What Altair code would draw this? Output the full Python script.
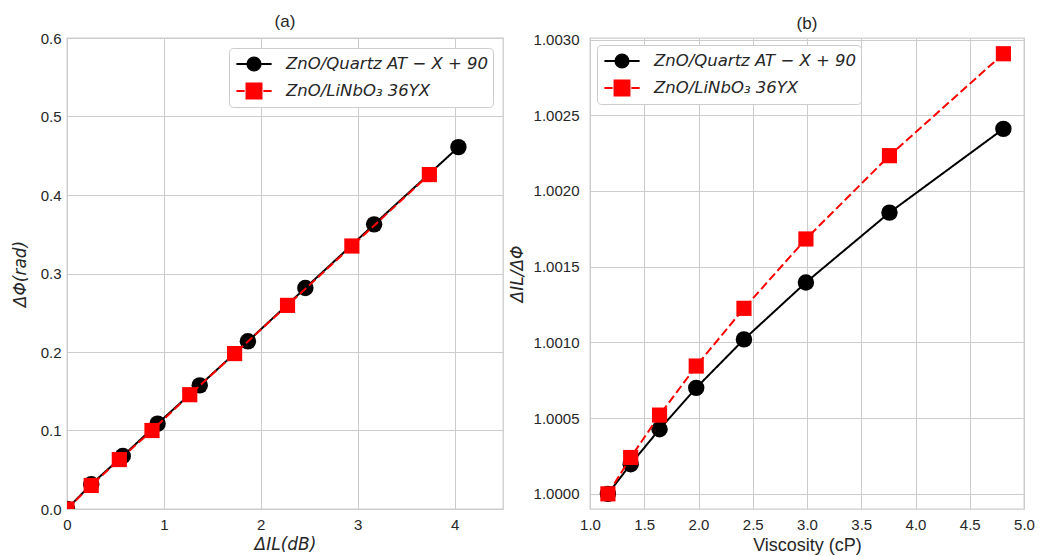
import altair as alt
import pandas as pd

series = ["ZnO/Quartz AT − X + 90", "ZnO/LiNbO₃ 36YX"]
colors = ["#000000", "#ff0000"]

# Panel (a): phase change vs insertion-loss change
il_quartz = [0.0, 0.25, 0.576, 0.935, 1.37, 1.867, 2.46, 3.17, 4.04]
phi_quartz = [0.0, 0.0315, 0.0675, 0.1087, 0.1575, 0.2136, 0.2815, 0.3626, 0.461]
il_linbo3 = [0.0, 0.25, 0.54, 0.877, 1.267, 1.73, 2.276, 2.94, 3.74]
phi_linbo3 = [0.0, 0.030, 0.063, 0.100, 0.1456, 0.198, 0.2594, 0.335, 0.426]

# Panel (b): ratio vs viscosity
visc = [1.165, 1.375, 1.641, 1.979, 2.419, 2.99, 3.76, 4.81]
ratio_quartz = [1.0000, 1.000196, 1.000427, 1.0007, 1.00102, 1.001396, 1.001857, 1.00241]
ratio_linbo3 = [1.0000, 1.00024, 1.00052, 1.000844, 1.001225, 1.001683, 1.002233, 1.002906]

x_ticks_a = [0, 1, 2, 3, 4]
y_ticks_a = [0.0, 0.1, 0.2, 0.3, 0.4, 0.5, 0.6]
x_ticks_b = [1.0, 1.5, 2.0, 2.5, 3.0, 3.5, 4.0, 4.5, 5.0]
y_ticks_b = [1.0, 1.0005, 1.001, 1.0015, 1.002, 1.0025, 1.003]

df_a = pd.DataFrame({
    "x": il_quartz + il_linbo3,
    "y": phi_quartz + phi_linbo3,
    "series": [series[0]] * len(il_quartz) + [series[1]] * len(il_linbo3),
})
df_b = pd.DataFrame({
    "x": visc + visc,
    "y": ratio_quartz + ratio_linbo3,
    "series": [series[0]] * len(visc) + [series[1]] * len(visc),
})

TXT = "#262626"
GRID = "#cccccc"

path_circle = "M-1.6,0H1.6M-0.6,0A0.6,0.6 0 1,0 0.6,0A0.6,0.6 0 1,0 -0.6,0Z"
path_square = "M-1.6,0H-0.85M0.85,0H1.6M-0.68,-0.68H0.68V0.68H-0.68Z"


def make_legend(orient, offset):
    return alt.Legend(
        orient=orient, offset=offset, title=None,
        labelFont="DejaVu Sans", labelFontStyle="italic", labelFontSize=16.5, labelColor=TXT,
        labelLimit=400, labelOffset=20, symbolOffset=9,
        symbolSize=484, symbolStrokeWidth=2, symbolOpacity=1, rowPadding=4,
        fillColor="white", strokeColor=GRID, cornerRadius=4, padding=4,
    )


def panel(df, xdom, xticks, xfmt, xtitle, xtitle_font, xtitle_style, xtitle_size,
          ydom, yticks, yfmt, ytitle, ylabpad, ytitlepad, title, legend, width):
    x = alt.X("x:Q", scale=alt.Scale(domain=xdom, nice=False, zero=False),
              axis=alt.Axis(values=xticks, format=xfmt, title=xtitle,
                            titleFont=xtitle_font, titleFontStyle=xtitle_style,
                            titleFontSize=xtitle_size, labelFlush=False,
                            labelPadding=8, titlePadding=4))
    y = alt.Y("y:Q", scale=alt.Scale(domain=ydom, nice=False, zero=False),
              axis=alt.Axis(values=yticks, format=yfmt, title=ytitle,
                            titleFont="DejaVu Sans", titleFontStyle="italic", labelFlush=False,
                            labelPadding=ylabpad, titlePadding=ytitlepad))
    layers = []
    dashes = [[1, 0], [8.5, 3.7]]
    shapes = ["circle", "square"]
    sizes = [270, 230]
    for i, s in enumerate(series):
        pred = alt.FieldEqualPredicate(field="series", equal=s)
        layers.append(
            alt.Chart(df).transform_filter(pred)
            .mark_line(color=colors[i], strokeWidth=2, strokeDash=dashes[i], clip=True)
            .encode(x=x, y=y)
        )
        layers.append(
            alt.Chart(df).transform_filter(pred)
            .mark_point(shape=shapes[i], filled=True, color=colors[i], size=sizes[i],
                        opacity=1, clip=True)
            .encode(x=x, y=y)
        )
    # invisible layer carrying the legend (line + marker symbols)
    scale_c = alt.Scale(domain=series, range=colors)
    layers.append(
        alt.Chart(df).mark_point(filled=True, opacity=0, size=1)
        .encode(
            x=x, y=y,
            fill=alt.Fill("series:N", scale=scale_c, legend=legend),
            stroke=alt.Stroke("series:N", scale=scale_c, legend=legend),
            shape=alt.Shape("series:N", scale=alt.Scale(domain=series, range=[path_circle, path_square]),
                            legend=legend),
        )
    )
    return alt.layer(*layers).properties(
        width=width, height=471,
        title=alt.TitleParams(title, font="Liberation Sans", fontSize=17, fontWeight="normal",
                              color=TXT, offset=0, frame="group"),
    )


pa = panel(df_a, [0, 4.5], x_ticks_a, "d", "ΔIL(dB)", "DejaVu Sans", "italic", 17,
           [0, 0.6], y_ticks_a, ".1f", "ΔΦ(rad)", 6, 11, "(a)",
           make_legend("top-right", 10), 436)
pb = panel(df_b, [1.0, 5.0], x_ticks_b, ".1f", "Viscosity (cP)", "Liberation Sans", "normal", 18,
           [0.9999, 1.00301], y_ticks_b, ".4f", "ΔIL/ΔΦ", 11, 7, "(b)",
           make_legend("top-left", 7), 434)

chart = alt.hconcat(pa, pb, spacing=3).resolve_scale(
    fill="independent", stroke="independent", shape="independent"
).resolve_legend(
    fill="independent", stroke="independent", shape="independent"
).properties(
    padding={"left": 2, "top": 4, "right": 0, "bottom": 0}
).configure_view(
    stroke=GRID, strokeWidth=1.3
).configure_axis(
    grid=True, gridColor=GRID, gridWidth=1, domain=False, ticks=False, tickSize=0,
    labelFont="Liberation Sans", labelFontSize=15, labelColor=TXT,
    titleFontSize=17, titleFontWeight="normal", titleColor=TXT,
)

chart.save("out.html", embed_options={"renderer": "svg", "actions": False})
